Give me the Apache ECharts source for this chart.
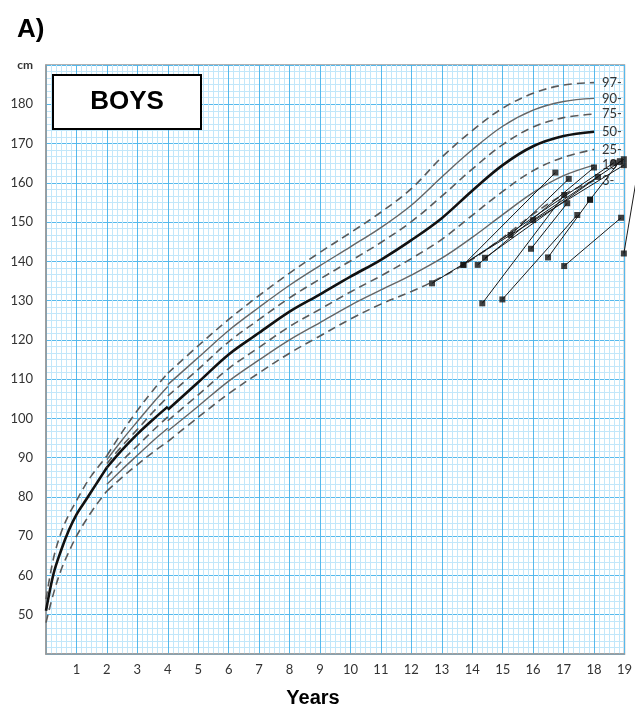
<!DOCTYPE html>
<html><head><meta charset="utf-8">
<script src="https://cdn.jsdelivr.net/npm/echarts@6/dist/echarts.min.js"></script>
<style>html,body{margin:0;padding:0;background:#fff}#c{width:635px;height:709px}</style>
</head><body><div id="c"></div><script>
// ---- percentile curves, birth to 2 years ----
const agesA = [0, 0.25, 0.5, 0.75, 1, 1.25, 1.5, 1.75, 2];
const a97 = [54, 64.5, 71, 75.5, 79, 82.5, 85.5, 88, 90.5];
const a50 = [51, 60.5, 66.5, 71.5, 75.5, 78.5, 81.5, 84.5, 87.5];
const a3  = [48, 55.5, 61.5, 66, 70, 73.3, 76.3, 79, 81.5];
// ---- 2 to 4 years ----
const agesB = [2, 2.5, 3, 3.5, 4];
const b97 = [90.5, 96.5, 102, 107, 111.5];
const b90 = [89.5, 94.5, 99.2, 103.8, 108.1];
const b75 = [88.5, 93, 97.2, 101.5, 105.5];
const b50 = [87.5, 92, 96, 99.6, 103];
const b25 = [85, 89.2, 93, 96.8, 100.4];
const b10 = [83.2, 87, 90.6, 94.2, 97.5];
const b3  = [81.5, 85, 88.2, 91.3, 94.1];
// ---- 4 to 18 years ----
const agesC = [4, 5, 6, 7, 8, 9, 10, 11, 12, 13, 14, 15, 16, 17, 18];
const c97 = [111.5, 118.5, 125.2, 131.3, 137, 142.3, 147.3, 152.5, 158.5, 166.5, 173.3, 179, 182.8, 184.9, 185.5];
const c90 = [108.6, 115.5, 122.4, 128.3, 133.9, 138.9, 143.7, 148.6, 154.3, 161.5, 168.4, 174.4, 178.5, 180.7, 181.5];
const c75 = [105.7, 112.5, 119.5, 125.2, 130.7, 135.5, 140.1, 144.8, 150.1, 156.6, 163.5, 169.7, 174.2, 176.6, 177.5];
const c50 = [102.2, 109.2, 116.3, 121.8, 127.2, 131.6, 136.1, 140.4, 145.4, 151, 158, 164.5, 169.3, 171.9, 173];
const c25 = [99.4, 106, 112.7, 118.1, 123.4, 127.8, 132.2, 136.3, 140.7, 145.6, 151.7, 157.8, 163.1, 166.5, 168.5];
const c10 = [96.8, 103.1, 109.5, 114.9, 120, 124.4, 128.8, 132.7, 136.5, 140.8, 146.1, 151.9, 157.5, 161.8, 164.5];
const c3  = [94.1, 100.3, 106.3, 111.6, 116.6, 121, 125.3, 129.1, 132.3, 136, 140.5, 146, 152, 157, 160.5];
// ---- patients: [age, height] first visit -> later visit ----
const patientSegments = [
  [[12.68, 134.4], [18.98, 164.5]],
  [[13.71, 139.1], [18.65, 165.1]],
  [[13.71, 139.1], [16.73, 162.6]],
  [[14.18, 139.1], [18.0, 163.9]],
  [[14.42, 140.9], [18.13, 161.5]],
  [[15.26, 146.7], [17.17, 161.0]],
  [[16.0, 150.5], [18.98, 166.0]],
  [[15.93, 143.2], [17.12, 154.8]],
  [[14.33, 129.3], [17.02, 156.9]],
  [[14.99, 130.3], [17.45, 151.8]],
  [[16.49, 141.0], [17.87, 155.7]],
  [[17.87, 155.7], [18.85, 165.5]],
  [[17.02, 138.8], [18.89, 151.1]],
  [[18.98, 142.0], [19.6, 170.5]]
];
const xTickLabels = ['', '1','2','3','4','5','6','7','8','9','10','11','12','13','14','15','16','17','18','19'];

const dashed = {color: '#5a5a5a', width: 1.6, type: [8, 5]};
const solidGray = {color: '#666', width: 1.4, type: 'solid'};
const bold = {color: '#111', width: 2.6, type: 'solid'};

function curve(xs, ys, style, label) {
  const s = {
    type: 'line', data: xs.map((x, i) => [x, ys[i]]), smooth: 0.35,
    showSymbol: false, symbol: 'none', lineStyle: style, silent: true, z: 3
  };
  if (label) {
    s.endLabel = {show: true, formatter: label + '-', distance: 8, color: '#333',
      fontSize: 13, fontFamily: 'Lato'};
  }
  return s;
}

const series = [
  curve(agesA, a97, dashed), curve(agesA, a50, bold), curve(agesA, a3, dashed),
  curve(agesB, b97, dashed), curve(agesB, b90, solidGray), curve(agesB, b75, dashed),
  curve(agesB, b50, bold), curve(agesB, b25, dashed), curve(agesB, b10, solidGray), curve(agesB, b3, dashed),
  curve(agesC, c97, dashed, '97'), curve(agesC, c90, solidGray, '90'), curve(agesC, c75, dashed, '75'),
  curve(agesC, c50, bold, '50'), curve(agesC, c25, dashed, '25'), curve(agesC, c10, solidGray, '10'),
  curve(agesC, c3, dashed, '3'),
  {
    type: 'lines', coordinateSystem: 'cartesian2d', clip: false, silent: true, z: 5,
    data: patientSegments.map(s => ({coords: s})),
    lineStyle: {color: '#1a1a1a', width: 1, opacity: 1}
  },
  {
    type: 'scatter', clip: false, silent: true, z: 6, symbol: 'rect', symbolSize: 6,
    itemStyle: {color: '#111'},
    data: patientSegments.flat()
  }
];

const chart = echarts.init(document.getElementById('c'), null, {renderer: 'canvas'});
chart.setOption({
  animation: false,
  backgroundColor: '#fff',
  grid: {left: 46, right: 8, top: 65, bottom: 55, show: true, borderColor: '#999', borderWidth: 1.5, backgroundColor: 'transparent'},
  xAxis: {
    type: 'value', min: 0, max: 19, interval: 1,
    axisLine: {show: true, lineStyle: {color: '#999', width: 1.5}},
    axisTick: {show: false},
    axisLabel: {margin: 9, color: '#333', fontSize: 13, fontFamily: 'Lato',
      formatter: v => xTickLabels[Math.round(v)] || ''},
    splitLine: {show: true, lineStyle: {color: '#56b9ec', width: 1}},
    minorTick: {show: false, splitNumber: 6},
    minorSplitLine: {show: true, lineStyle: {color: '#c2e7fa', width: 1}}
  },
  yAxis: {
    type: 'value', min: 40, max: 190, interval: 10,
    axisLine: {show: true, lineStyle: {color: '#999', width: 1.5}},
    axisTick: {show: false},
    axisLabel: {margin: 13, color: '#333', fontSize: 13, fontFamily: 'Lato',
      formatter: v => v === 190 ? '{cm|cm}' : (v === 40 ? '' : String(v)),
      rich: {cm: {fontWeight: 'bold', fontSize: 12, color: '#333', fontFamily: 'Lato'}}},
    splitLine: {show: true, lineStyle: {color: '#56b9ec', width: 1}},
    minorTick: {show: false, splitNumber: 6},
    minorSplitLine: {show: true, lineStyle: {color: '#c2e7fa', width: 1}}
  },
  graphic: [
    {type: 'text', left: 17, top: 17, style: {text: 'A)', font: 'bold 26px "Liberation Sans", Arial', fill: '#000'}},
    {type: 'rect', shape: {x: 53, y: 75, width: 148, height: 54}, style: {fill: '#fff', stroke: '#000', lineWidth: 2}, z: 100},
    {type: 'text', x: 127, y: 102, z: 101, style: {text: 'BOYS', font: 'bold 26px "Liberation Sans", Arial', fill: '#000', align: 'center', verticalAlign: 'middle'}},
    {type: 'text', x: 313, y: 698, style: {text: 'Years', font: 'bold 20px "Liberation Sans", Arial', fill: '#000', align: 'center', verticalAlign: 'middle'}}
  ],
  series: series
});
</script></body></html>
